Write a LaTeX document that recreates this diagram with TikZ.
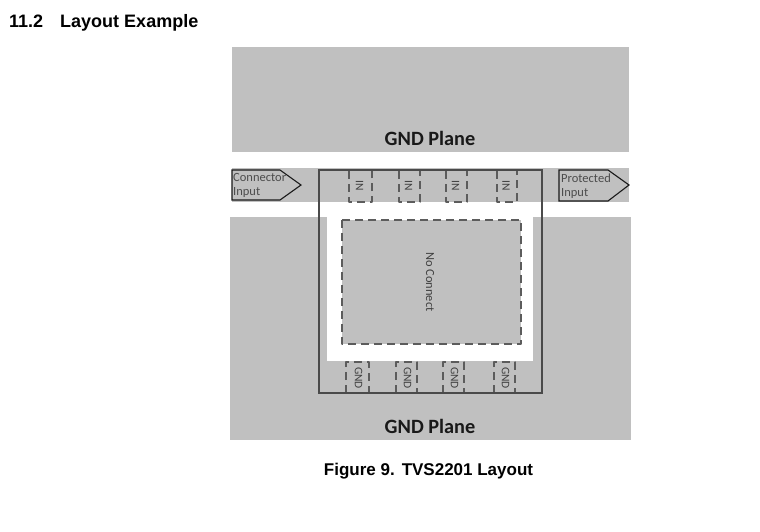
\documentclass[tikz,border=0pt]{standalone}
\usepackage{fontspec}
\setmainfont{Liberation Sans}
\newfontfamily\calibri{Carlito}
\definecolor{planegray}{HTML}{C0C0C0}
\definecolor{edgegray}{HTML}{4A4A4A}
\tikzset{
  padline/.style={draw=edgegray!90,line width=1.1pt,dash pattern=on 8pt off 5pt},
  padtext/.style={font=\calibri\fontsize{11.5}{13}\selectfont,rotate=-90,text=black!75,inner sep=0pt},
  arrowbox/.style={draw=black!90,line width=1.1pt,line join=miter},
  arrowtext/.style={font=\calibri\fontsize{12.5}{14}\selectfont,text=black!70,anchor=west,inner sep=0pt},
  planetext/.style={font=\calibri\bfseries\fontsize{20.3}{22}\selectfont,text=black!90,inner sep=0pt},
  headtext/.style={font=\bfseries\fontsize{17.5}{20}\selectfont,inner sep=0pt}
}

\begin{document}
\begin{tikzpicture}[x=1pt,y=-1pt,line cap=butt,line join=round]
\useasboundingbox (0,0) rectangle (760,532);
\fill[white] (0,0) rectangle (760,532);
% planes
\fill[planegray] (232,47) rectangle (629,152);
\fill[planegray] (232,168) rectangle (629,202);
\fill[planegray] (230,217) rectangle (631,440);
\fill[white] (327,202) rectangle (533,361);
% no connect pad
\fill[planegray] (342,220) rectangle (521,344);
\draw[padline,line width=1.4pt] (342,220) rectangle (521,344);
% IN pads
\foreach \px/\pw [count=\i] in {349/23,399/21,446/21,497/20}{
  \draw[padline] (\px,171) -- (\px,202) -- (\px+\pw,202) -- (\px+\pw,171);
  \node[padtext] (in\i) at (\px+\pw/2-1,186) {IN};
}
% GND pads
\foreach \px/\pw [count=\i] in {346/23,396/21,443/21,494/21}{
  \draw[padline] (\px,393) -- (\px,362) -- (\px+\pw,362) -- (\px+\pw,393);
  \node[padtext] (gnd\i) at (\px+\pw/2+1,378) {GND};
}
% package outline
\draw[edgegray,line width=2.6pt,line join=miter] (319,170) rectangle (542,393);
% input arrows
\draw[arrowbox] (232,170) -- (280,170) -- (301,185) -- (280,200) -- (232,200) -- cycle;
\draw[arrowbox] (559,170) -- (608,170) -- (629,185) -- (608,201) -- (559,201) -- cycle;
\node[arrowtext] (conn1) at (233,177) {Connector};
\node[arrowtext] (conn2) at (233,192) {Input};
\node[arrowtext] (prot1) at (561,178) {Protected};
\node[arrowtext] (prot2) at (561,193) {Input};
% labels
\node[planetext] (gndtop) at (430,138) {GND Plane};
\node[planetext] (gndbot) at (430,426) {GND Plane};
\node[padtext,font=\calibri\fontsize{12.4}{14}\selectfont] (nc) at (430,282) {No Connect};
\node[headtext,anchor=west,font=\bfseries\fontsize{18}{20}\selectfont] (sect) at (9,23) {11.2\hspace{17pt}Layout Example};
\node[headtext,font=\bfseries\fontsize{17}{20}\selectfont] (fig) at (428.5,471) {Figure 9.\hspace{7pt}TVS2201 Layout};
\end{tikzpicture}
\end{document}
